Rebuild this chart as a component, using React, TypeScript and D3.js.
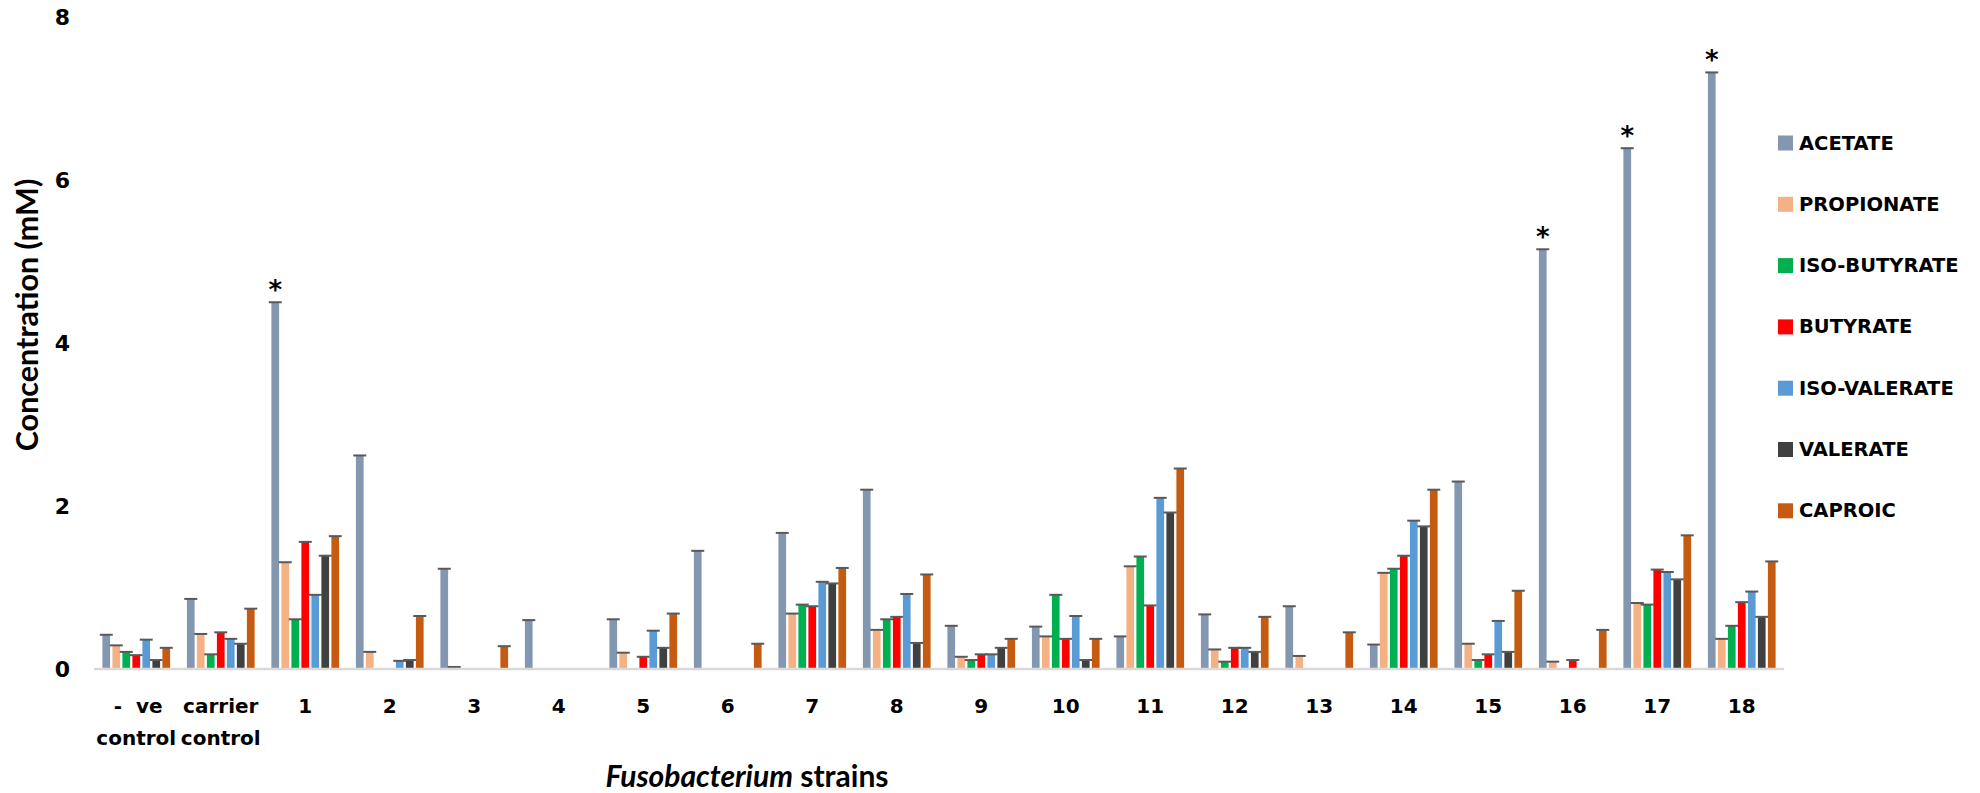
import React from "react";
import * as d3 from "d3";

const categories: string[][] = [
  ["-  ve", "control"],
  ["carrier", "control"],
  ["1"], ["2"], ["3"], ["4"], ["5"], ["6"], ["7"], ["8"], ["9"],
  ["10"], ["11"], ["12"], ["13"], ["14"], ["15"], ["16"], ["17"], ["18"],
];

const seriesNames = ["ACETATE", "PROPIONATE", "ISO-BUTYRATE", "BUTYRATE", "ISO-VALERATE", "VALERATE", "CAPROIC"];
const seriesColors = ["#8497B0", "#F4B183", "#00B050", "#FF0000", "#5B9BD5", "#404040", "#C55A11"];

const acetate = [0.42, 0.86, 4.5, 2.62, 1.23, 0.6, 0.61, 1.45, 1.67, 2.2, 0.53, 0.52, 0.4, 0.67, 0.77, 0.3, 2.3, 5.15, 6.39, 7.32];
const propionate = [0.29, 0.43, 1.31, 0.21, 0.025, 0, 0.2, 0, 0.68, 0.48, 0.15, 0.4, 1.26, 0.24, 0.16, 1.18, 0.31, 0.09, 0.81, 0.37];
const isoButyrate = [0.21, 0.18, 0.61, 0, 0, 0, 0, 0, 0.79, 0.61, 0.11, 0.91, 1.38, 0.09, 0, 1.23, 0.11, 0, 0.79, 0.53];
const butyrate = [0.17, 0.45, 1.56, 0, 0, 0, 0.15, 0, 0.77, 0.64, 0.18, 0.37, 0.78, 0.26, 0, 1.39, 0.18, 0.11, 1.22, 0.82];
const isoValerate = [0.36, 0.37, 0.91, 0.1, 0, 0, 0.47, 0, 1.07, 0.92, 0.18, 0.65, 2.1, 0.26, 0, 1.82, 0.59, 0, 1.19, 0.95];
const valerate = [0.11, 0.31, 1.39, 0.11, 0, 0, 0.26, 0, 1.05, 0.32, 0.26, 0.11, 1.92, 0.21, 0, 1.75, 0.21, 0, 1.1, 0.64];
const caproic = [0.26, 0.74, 1.63, 0.65, 0.28, 0, 0.68, 0.31, 1.24, 1.16, 0.37, 0.37, 2.46, 0.64, 0.45, 2.2, 0.96, 0.48, 1.64, 1.32];

const yTicks = [0, 2, 4, 6, 8];
const starred = [2, 17, 18, 19];

const series = [acetate, propionate, isoButyrate, butyrate, isoValerate, valerate, caproic];

const W = 1980;
const H = 793;
const FONT = "'DejaVu Sans', Verdana, sans-serif";
const TITLE_FONT = "Lato, 'Open Sans', sans-serif";

export default function App() {
  const x0 = d3
    .scaleBand<number>()
    .domain(d3.range(categories.length))
    .range([94, 1784])
    .paddingInner(0.1716)
    .paddingOuter(0.0858);
  const x1 = d3
    .scaleBand<number>()
    .domain(d3.range(series.length))
    .range([0, x0.bandwidth()])
    .paddingInner(0.23)
    .paddingOuter(0.115);
  const y = d3.scaleLinear().domain([0, 8]).range([669, 17]);

  return (
    <svg width={W} height={H} style={{ position: "absolute", left: 0, top: 0, background: "#fff" }}>
      <rect width={W} height={H} fill="#fff" />
      {/* y tick labels */}
      {yTicks.map((t) => (
        <text key={t} x={70} y={y(t)} textAnchor="end" dominantBaseline="central" fontFamily={FONT} fontWeight="bold" fontSize={22} fill="#000">
          {t}
        </text>
      ))}
      {/* bars */}
      {categories.map((_, ci) => (
        <g key={ci} transform={`translate(${x0(ci)},0)`}>
          {series.map((vals, si) => {
            const v = vals[ci];
            if (v <= 0) return null;
            const bx = x1(si)!;
            const bw = x1.bandwidth();
            const cx = bx + bw / 2;
            return (
              <g key={si}>
                <rect x={bx} y={y(v)} width={bw} height={y(0) - y(v)} fill={seriesColors[si]} />
                <line x1={cx - 6.5} x2={cx + 6.5} y1={y(v)} y2={y(v)} stroke="#595959" strokeWidth={2} />
              </g>
            );
          })}
        </g>
      ))}
      {/* x axis line */}
      <line x1={94} x2={1784} y1={y(0)} y2={y(0)} stroke="#D9D9D9" strokeWidth={2.5} />
      {/* asterisks */}
      {starred.map((ci) => {
        const cx = x0(ci)! + x1(0)! + x1.bandwidth() / 2;
        return (
          <text key={ci} x={cx} y={y(acetate[ci]) - 3} textAnchor="middle" fontFamily={FONT} fontWeight="bold" fontSize={26} fill="#000">
            *
          </text>
        );
      })}
      {/* category labels */}
      {categories.map((lines, ci) => {
        const cx = x0(ci)! + x0.bandwidth() / 2;
        return (
          <text key={ci} textAnchor="middle" fontFamily={FONT} fontWeight="bold" fontSize={20} fill="#000" style={{ whiteSpace: "pre" }}>
            {lines.map((ln, li) => (
              <tspan key={li} x={cx + (li === 0 && ci === 0 ? 2 : 0)} y={706 + li * 32} dominantBaseline="central">
                {ln}
              </tspan>
            ))}
          </text>
        );
      })}
      {/* axis titles */}
      <text
        transform={`translate(26,${315}) rotate(-90)`}
        textAnchor="middle"
        dominantBaseline="central"
        fontFamily={TITLE_FONT}
        fontWeight="bold"
        fontSize={30.5}
        fill="#000"
      >
        Concentration (mM)
      </text>
      <text x={747} y={775} textAnchor="middle" dominantBaseline="central" fontFamily={TITLE_FONT} fontWeight="bold" fontSize={30} fill="#000">
        <tspan fontStyle="italic">Fusobacterium</tspan> strains
      </text>
      {/* legend */}
      {seriesNames.map((name, si) => {
        const cy = 143 + si * 61.3;
        return (
          <g key={name}>
            <rect x={1778} y={cy - 7.5} width={15} height={15} fill={seriesColors[si]} />
            <text x={1799} y={cy} dominantBaseline="central" fontFamily={FONT} fontWeight="bold" fontSize={19.5} fill="#000">
              {name}
            </text>
          </g>
        );
      })}
    </svg>
  );
}
